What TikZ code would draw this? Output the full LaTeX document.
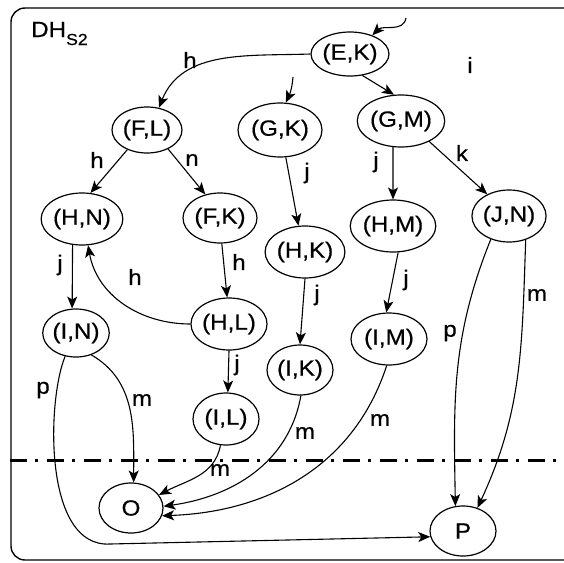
\documentclass[tikz,border=0pt]{standalone}
\usepackage{fontspec}
\setmainfont{Liberation Sans}
\newfontfamily\diagfont[FakeStretch=1.1,FakeBold=0.6]{Liberation Sans}
\usetikzlibrary{arrows.meta,shapes.geometric}
\begin{document}
\begin{tikzpicture}[x=1pt,y=1pt,
  st/.style={ellipse,draw,line width=1.2pt,inner sep=0pt,font=\diagfont\fontsize{22}{25}\selectfont},
  sz/.style 2 args={minimum width=#1pt,minimum height=#2pt},
  lbl/.style={inner sep=0pt,font=\diagfont\fontsize{22}{25}\selectfont},
  arr/.style={line width=1.1pt,-{Stealth[length=12pt,width=10pt,inset=3pt]}},
  cut/.style={line width=3pt,dash pattern=on 17pt off 8pt on 3pt off 9pt},
]
\useasboundingbox (0,0) rectangle (564,-562);

% enclosing frame and its title
\draw[line width=1.4pt,rounded corners=14pt] (11,-8) rectangle (600,-560);
\node[lbl,anchor=base west] (title) at (31,-37)
  {DH\raisebox{-8pt}{\fontsize{16}{16}\selectfont S2}};

% states
\node[st,sz={76}{44}] (EK) at (350,-54)  {(E,K)};
\node[st,sz={85}{52}] (GM) at (401,-121) {(G,M)};
\node[st,sz={70}{46}] (FL) at (147,-130) {(F,L)};
\node[st,sz={84}{54}] (GK) at (280,-130) {(G,K)};
\node[st,sz={78}{52}] (HN) at (82,-219)  {(H,N)};
\node[st,sz={74}{50}] (FK) at (220,-218) {(F,K)};
\node[st,sz={76}{52}] (HL) at (229,-324) {(H,L)};
\node[st,sz={66}{48}] (IN) at (76,-333)  {(I,N)};
\node[st,sz={84}{52}] (HM) at (393,-226) {(H,M)};
\node[st,sz={74}{52}] (JN) at (509,-216) {(J,N)};
\node[st,sz={72}{52}] (HK) at (305,-252) {(H,K)};
\node[st,sz={76}{52}] (IM) at (389,-339) {(I,M)};
\node[st,sz={66}{50}] (IK) at (300,-370) {(I,K)};
\node[st,sz={66}{52}] (IL) at (226,-419) {(I,L)};
\node[st,sz={64}{50}] (O)  at (131,-508) {O};
\node[st,sz={66}{50}] (P)  at (463,-531) {P};

% dash-dot separator
\coordinate (cutL) at (10,-460);
\coordinate (cutR) at (566,-460);
\draw[cut] (cutL) -- (cutR);

% entry arrows
\coordinate (ekin) at (406,-18);
\coordinate (gkin) at (293,-77);
\draw[arr] (ekin) to[out=-100,in=45] (EK.40);
\draw[arr] (gkin) to[out=-95,in=65] (GK.78);

% transitions
\draw[arr] (EK.west) to[out=182,in=68] (FL.62);
\draw[arr] (EK.-60) -- (GM.105);
\draw[arr] (FL.-135) -- (HN.72);
\draw[arr] (FL.-42) -- (FK.122);
\draw[arr] (GK.-78) -- (HK.104);
\draw[arr] (GM.-107) -- (HM.north);
\draw[arr] (GM.-36) -- (JN.135);
\draw[arr] (HN.-110) -- (IN.99);
\draw[arr] (FK.-86) -- (HL.94);
\draw[arr] (HL.west) to[out=180,in=-80] (HN.-77);
\draw[arr] (HK.south) -- (IK.north);
\draw[arr] (HM.-79) -- (IM.96);
\draw[arr] (HL.-90) -- (IL.86);
\draw[arr] (JN.-128) to[out=-112,in=91] (P.107);
\draw[arr] (JN.-55) to[out=-92,in=65] (P.58);
\draw[arr] (IN.-55) to[out=-30,in=90] (O.84);
\draw[arr] (IN.-115) .. controls (47,-400) and (43,-548) .. (110,-544) -- (P.190);
\draw[arr] (IL.-102) to[out=-100,in=28] (O.25);
\draw[arr] (IK.-88) to[out=-100,in=8] (O.3);
\draw[arr] (IM.-95) to[out=-108,in=2] (O.-14);

% transition labels
\node[lbl] (l1)  at (190,-60)  {h};
\node[lbl] (l2)  at (470,-65)  {i};
\node[lbl] (l3)  at (97,-160)  {h};
\node[lbl] (l4)  at (192,-160) {n};
\node[lbl] (l5)  at (376,-162) {j};
\node[lbl] (l6)  at (462,-153) {k};
\node[lbl] (l7)  at (307,-173) {j};
\node[lbl] (l8)  at (60,-265)  {j};
\node[lbl] (l9)  at (135,-277) {h};
\node[lbl] (l10) at (239,-262) {h};
\node[lbl] (l11) at (237,-365) {j};
\node[lbl] (l12) at (406,-280) {j};
\node[lbl] (l13) at (317,-295) {j};
\node[lbl] (l14) at (537,-295) {m};
\node[lbl] (l15) at (450,-333) {p};
\node[lbl] (l16) at (43,-390)  {p};
\node[lbl] (l17) at (142,-400) {m};
\node[lbl] (l18) at (220,-470) {m};
\node[lbl] (l19) at (305,-433) {m};
\node[lbl] (l20) at (380,-420) {m};
\end{tikzpicture}
\end{document}
